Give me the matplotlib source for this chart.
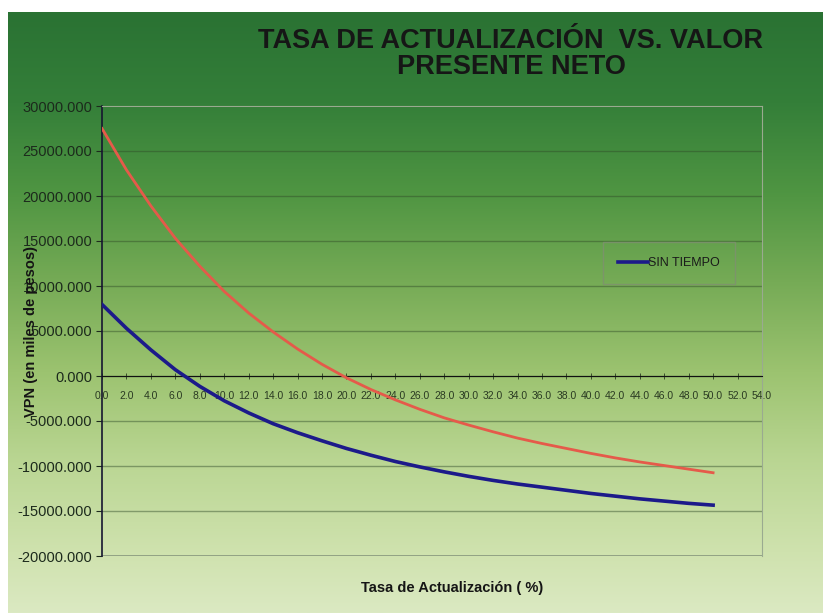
import matplotlib
matplotlib.use("Agg")
import matplotlib.pyplot as plt
import numpy as np
from matplotlib.colors import LinearSegmentedColormap

# datos
tasa = [0, 2, 4, 6, 8, 10, 12, 14, 16, 18, 20, 22, 24, 26,
        28, 30, 32, 34, 36, 38, 40, 42, 44, 46, 48, 50]
vpn_rojo = [27500, 22900, 18900, 15300, 12200, 9400, 7000, 4900, 3000, 1300,
            -200, -1500, -2650, -3700, -4650, -5450, -6200, -6900, -7500, -8050,
            -8600, -9100, -9550, -9950, -10350, -10750]
vpn_sin_tiempo = [7950, 5300, 2900, 700, -1150, -2750, -4100, -5300, -6300, -7200,
                  -8050, -8800, -9500, -10100, -10650, -11150, -11600, -12000, -12350, -12700,
                  -13050, -13350, -13650, -13900, -14150, -14350]

y_ticks = [-20000, -15000, -10000, -5000, 0, 5000, 10000, 15000, 20000, 25000, 30000]
x_ticks = list(range(0, 56, 2))

plt.rcParams['font.family'] = ['Liberation Sans', 'DejaVu Sans']

fig = plt.figure(figsize=(8.23, 6.13), dpi=100, facecolor='white')

# fondo degradado verde
bg = fig.add_axes([8 / 823, 0, 1 - 8 / 823, 1 - 12 / 613], zorder=-5)
cmap = LinearSegmentedColormap.from_list('fondo', [
    (0.0, '#2a7233'), (0.15, '#347f39'), (0.3, '#4f9542'), (0.45, '#76ab56'),
    (0.6, '#9cc370'), (0.75, '#bad693'), (0.9, '#cfe2ae'), (1.0, '#dbe9c2')])
grad = np.linspace(0, 1, 256).reshape(-1, 1)
bg.imshow(grad, aspect='auto', cmap=cmap, extent=[0, 1, 0, 1], origin='upper')
bg.axis('off')

ax = fig.add_axes([102 / 823, 1 - 556 / 613, 660 / 823, 450 / 613])
ax.set_facecolor('none')

ax.plot(tasa, vpn_rojo, color='#e55a4a', lw=2.0, zorder=3)
ax.plot(tasa, vpn_sin_tiempo, color='#1c1a8a', lw=2.6, label='SIN TIEMPO', zorder=3)

ax.set_xlim(0, 54)
ax.set_ylim(-20000, 30000)
ax.set_yticks(y_ticks)
ax.set_yticklabels(['%.3f' % v for v in y_ticks])
ax.set_xticks(x_ticks)
ax.set_xticklabels(['%.1f' % v for v in x_ticks])

ax.yaxis.grid(True, color='#2f4a28', alpha=0.45, lw=1.0)
ax.set_axisbelow(True)

ax.spines['bottom'].set_position(('data', 0))
ax.spines['bottom'].set_color('#111111')
ax.spines['left'].set_color('#161630')
ax.spines['left'].set_linewidth(1.2)
ax.spines['top'].set_color('#9aaa90')
ax.spines['right'].set_color('#9aaa90')
ax.axhline(-20000, color='#8a9a80', lw=1.2, zorder=1)

ax.tick_params(axis='y', labelsize=10.5, colors='#1c2a1c', length=4, width=0.8, pad=3)
ax.tick_params(axis='x', labelsize=7.5, colors='#2a3a22', direction='inout',
               length=4, width=0.6, pad=8.5)

ax.set_ylabel('VPN (en miles de pesos)', fontsize=10.5, fontweight='bold',
              color='#151515')
ax.yaxis.set_label_coords(-0.097, 0.5)
ax.set_xlabel('Tasa de Actualización ( %)', fontsize=10.5, fontweight='bold',
              color='#151515')
ax.xaxis.set_label_coords(0.53, -0.056)

leg = ax.legend(loc='upper left', bbox_to_anchor=(0.759, 0.697), fontsize=9,
                handlelength=2.4, handletextpad=0.0, borderpad=1.2,
                frameon=True, fancybox=False, borderaxespad=0)
leg.get_frame().set_facecolor('none')
leg.get_frame().set_edgecolor('#7f9070')
for t in leg.get_texts():
    t.set_color('#1a1a1a')

fig.text(511 / 823, 1 - 54 / 613, 'TASA DE ACTUALIZACIÓN  VS. VALOR\nPRESENTE NETO',
         ha='center', va='center', fontsize=19.5, fontweight='bold',
         color='#161616', linespacing=1.05)

fig.savefig('out.png', dpi=100, facecolor='white')
